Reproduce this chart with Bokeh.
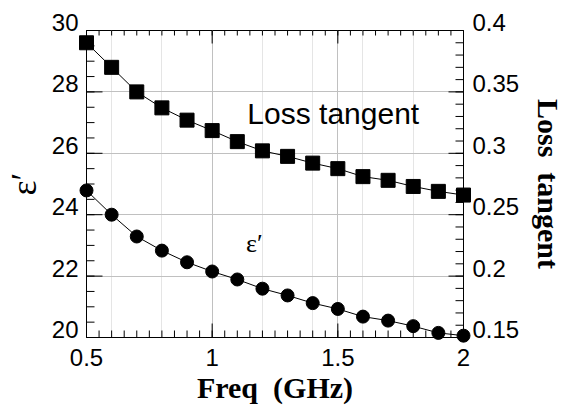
import numpy as np
from bokeh.plotting import figure
from bokeh.models import (LinearAxis, Range1d, SingleIntervalTicker, FixedTicker,
                          CustomJSTickFormatter, Label, Grid)
from bokeh.embed import file_html
from bokeh.resources import INLINE

# ---- data ----
freq = [0.5, 0.6, 0.7, 0.8, 0.9, 1.0, 1.1, 1.2, 1.3, 1.4, 1.5, 1.6, 1.7, 1.8, 1.9, 2.0]
eps_real = [24.79, 24.00, 23.29, 22.83, 22.45, 22.15, 21.89, 21.59, 21.37, 21.12,
            20.93, 20.68, 20.55, 20.37, 20.15, 20.06]
loss_tan = [0.390, 0.370, 0.350, 0.337, 0.327, 0.3185, 0.3095, 0.302, 0.2975, 0.292,
            0.2875, 0.281, 0.278, 0.273, 0.269, 0.266]

# ---- ticks ----
x_ticks = [0.5, 1.0, 1.5, 2.0]
y_ticks = [20, 22, 24, 26, 28, 30]
y2_ticks = [0.15, 0.2, 0.25, 0.3, 0.35, 0.4]
x_minor_step = 0.05
y_minor_step = 0.5
y2_minor_step = 0.01

x_title = "Freq\u00a0 (GHz)"
y_title = "\u03b5\u2032"
y2_title = "Loss\u00a0 tangent"
lt_text = "Loss tangent"
eps_text = "\u03b5\u2032"
lt_pos = (1.14, 26.97)
eps_pos = (1.135, 22.74)

X0, X1 = 0.5, 2.0
Y0, Y1 = 20, 30
Y20, Y21 = 0.15, 0.4

SANS = "Liberation Sans"
SERIF = "Liberation Serif"

W, H = 568, 412
FL, FR, FT, FB = 80, 465, 30, 337          # frame edges in px

p = figure(width=W, height=H, output_backend="svg", toolbar_location=None,
           x_range=Range1d(X0, X1), y_range=Range1d(Y0, Y1),
           x_axis_location=None, y_axis_location=None,
           min_border_left=FL, min_border_right=W - FR, min_border_top=FT,
           min_border_bottom=H - FB)
p.extra_y_ranges = {"lt": Range1d(Y20, Y21)}
p.outline_line_color = "black"
p.background_fill_color = "white"
p.border_fill_color = "white"

fmt = CustomJSTickFormatter(code="return String(parseFloat(tick.toFixed(3)))")
# vertical-axis numbers sit on top of their ticks: an empty second line lifts them
fmt_lift = CustomJSTickFormatter(code="return String(parseFloat(tick.toFixed(3))) + '\\n'")

xt = SingleIntervalTicker(interval=0.5, num_minor_ticks=10)
yt = SingleIntervalTicker(interval=2, num_minor_ticks=4)


def style(ax):
    for a in ("major_tick_in", "major_tick_out", "minor_tick_in", "minor_tick_out"):
        setattr(ax, a, 0)
    ax.major_label_text_font = SANS
    ax.major_label_text_font_size = "24px"
    ax.major_label_text_color = "black"
    ax.axis_label_text_color = "black"
    ax.axis_line_color = "black"


bottom = LinearAxis(ticker=xt, formatter=fmt, axis_label=x_title)
style(bottom)
bottom.major_label_standoff = 11
bottom.axis_label_standoff = 2
bottom.axis_label_text_font = SERIF
bottom.axis_label_text_font_style = "bold"
bottom.axis_label_text_font_size = "30px"
p.add_layout(bottom, "below")

left = LinearAxis(ticker=FixedTicker(ticks=y_ticks, minor_ticks=[]), formatter=fmt_lift,
                  axis_label=y_title)
style(left)
left.major_label_text_line_height = 0.6
left.major_label_standoff = 8
left.axis_label_standoff = 5
left.axis_label_text_font = SERIF
left.axis_label_text_font_style = "normal"
left.axis_label_text_font_size = "36px"
p.add_layout(left, "left")

right = LinearAxis(ticker=FixedTicker(ticks=y2_ticks, minor_ticks=[]), formatter=fmt_lift,
                   y_range_name="lt", axis_label=y2_title)
style(right)
right.major_label_text_line_height = 0.6
right.major_label_standoff = 9
right.axis_label_standoff = 10
right.axis_label_text_font = SERIF
right.axis_label_text_font_style = "bold"
right.axis_label_text_font_size = "30px"
p.add_layout(right, "right")

p.add_layout(Grid(dimension=0, ticker=xt, grid_line_color="#c0c0c0", grid_line_width=1))
p.add_layout(Grid(dimension=1, ticker=yt, grid_line_color="#c0c0c0", grid_line_width=1))

# ---- inward tick marks (dashes centred on the frame edge, clipped by the frame) ----
x_minor = np.arange(X0, X1 + 1e-9, x_minor_step)
y_minor = np.arange(Y0, Y1 + 1e-9, y_minor_step)
y2_minor = np.arange(Y20, Y21 + 1e-9, y2_minor_step)


def dashes(xs, ys, size, vertical, rng="default"):
    p.scatter(x=list(xs), y=list(ys), marker="dash", size=size, line_color="black",
              line_width=1, angle=(np.pi / 2 if vertical else 0), y_range_name=rng)


dashes(x_minor, [Y0] * len(x_minor), 14, True)
dashes(x_ticks, [Y0] * len(x_ticks), 28, True)
dashes(x_minor, [Y1] * len(x_minor), 10, True)
dashes(x_ticks, [Y1] * len(x_ticks), 26, True)
dashes([X0] * len(y_minor), y_minor, 16, False)
dashes([X0] * len(y_ticks), y_ticks, 32, False)
dashes([X1] * len(y2_minor), y2_minor, 16, False, "lt")
dashes([X1] * len(y2_ticks), y2_ticks, 30, False, "lt")

# ---- data ----
p.line(freq, loss_tan, y_range_name="lt", line_color="black", line_width=1)
p.scatter(freq, loss_tan, y_range_name="lt", marker="square", size=14,
          fill_color="black", line_color="black", level="overlay")
p.line(freq, eps_real, line_color="black", line_width=1)
p.scatter(freq, eps_real, marker="circle", size=13,
          fill_color="black", line_color="black", level="overlay")

p.add_layout(Label(x=lt_pos[0], y=lt_pos[1], text=lt_text, text_font=SANS, y_offset=10,
                   text_font_size="30px", text_baseline="alphabetic", text_color="black"))
p.add_layout(Label(x=eps_pos[0], y=eps_pos[1], text=eps_text, text_font=SERIF, y_offset=10,
                   text_font_size="26px", text_baseline="alphabetic", text_color="black"))

open("out.html", "w").write(file_html(p, INLINE))
